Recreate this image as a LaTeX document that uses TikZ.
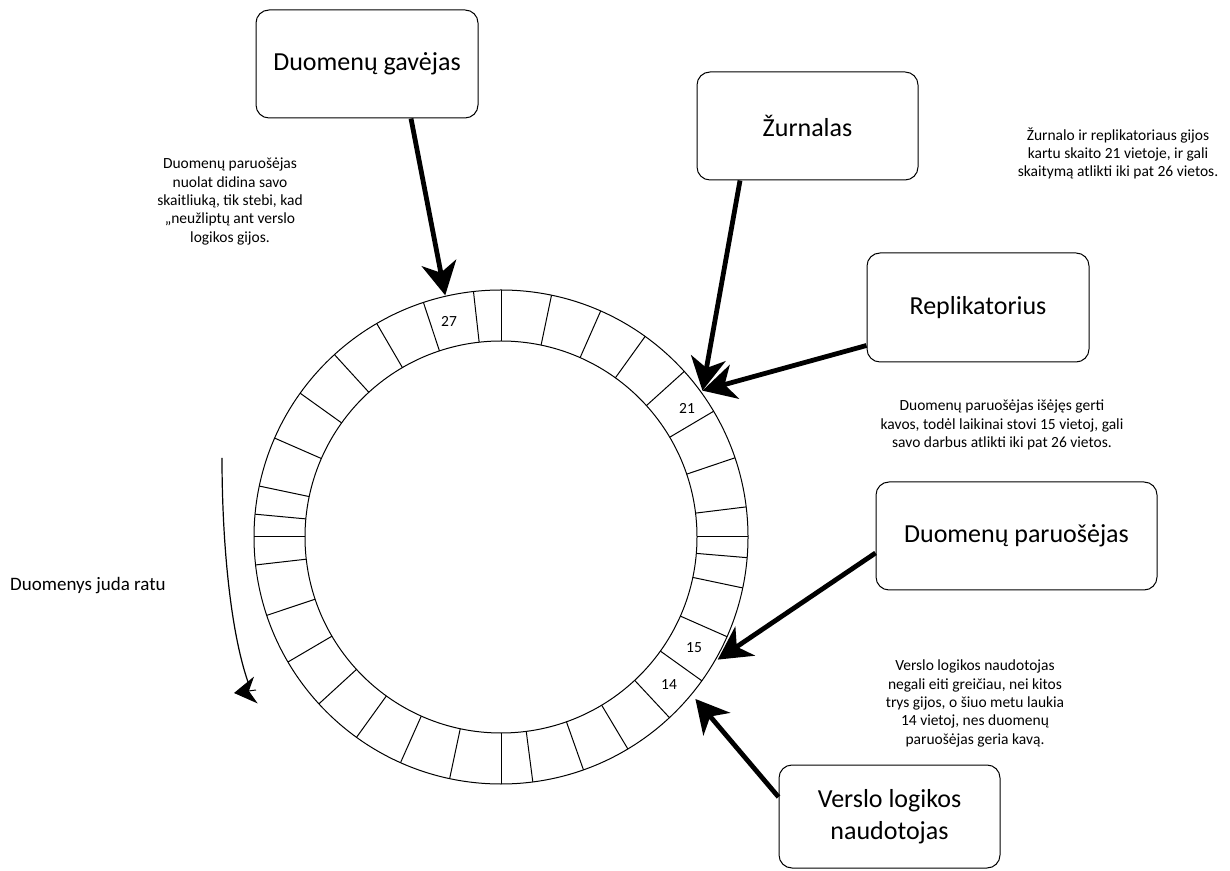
\documentclass[tikz,border=0pt]{standalone}
\usepackage{fontspec}
\setmainfont{Carlito}
\usetikzlibrary{arrows.meta,calc}
\begin{document}
\begin{tikzpicture}[x=1pt,y=1pt,
  box/.style={draw=black, line width=1pt, rounded corners=13pt, minimum width=222pt,
    minimum height=108pt, inner sep=0pt, align=center, font=\fontsize{26}{32}\selectfont},
  note/.style={align=center, inner sep=0pt, font=\fontsize{15.5}{18.3}\selectfont},
  cellnum/.style={inner sep=0pt, font=\fontsize{15.5}{18}\selectfont},
  ringline/.style={line width=1pt},
  bigarrow/.style={line width=4.8pt, -{Stealth[length=33pt,width=35pt,inset=10pt]}},
  flow/.style={line width=1.2pt}
]
\useasboundingbox (0,0) rectangle (1230,870);
\fill[white] (0,0) rectangle (1230,870);

% ring buffer
\coordinate (ring) at (501,333);
\draw[ringline] (ring) circle (247);
\draw[ringline] (ring) circle (196);
\foreach \a in {90,78.2,66.2,54.3,42.1,30.6,18.7,7,0,-4.8,-11.9,-23.8,-35.6,-47,
                -59.1,-70.5,-82.6,-90,-102,-114,-125.8,-137.5,-149.6,-161.5,-173.5,
                180,174.7,168.1,156.4,144.4,132.4,120.2,108.3,96.4}
  \draw[ringline] ($(ring)+(\a:196)$) -- ($(ring)+(\a:247)$);

% cell numbers
\node[cellnum] (n27) at (449,549) {27};
\node[cellnum] (n21) at (687,462) {21};
\node[cellnum] (n15) at (694,222) {15};
\node[cellnum] (n14) at (669,185) {14};

% arrow targets on the outer rim
\coordinate (t27) at ($(ring)+(103:248)$);
\coordinate (t21) at ($(ring)+(36:249)$);
\coordinate (t15) at ($(ring)+(-29.5:249)$);
\coordinate (t14) at ($(ring)+(-39.8:253)$);

% thread boxes
\node[box] (gav) at (367,806) {Duomenų gavėjas};
\node[box, minimum width=221pt] (zur) at (807.5,744) {Žurnalas};
\node[box, minimum height=109pt] (rep) at (978,562.5) {Replikatorius};
\node[box, minimum width=281pt] (par) at (1016.5,334) {Duomenų paruošėjas};
\node[box, minimum width=221pt, minimum height=103pt] (ver) at (889.5,53.5) {Verslo logikos\\naudotojas};

% thread positions
\draw[bigarrow] ($(gav.south)+(44,0)$) -- (t27);
\draw[bigarrow] ($(zur.south)+(-67.5,0)$) -- (t21);
\draw[bigarrow] ($(rep.west)+(0,-38)$) -- (t21);
\draw[bigarrow] ($(par.west)+(0,-17)$) -- (t15);
\draw[bigarrow] ($(ver.west)+(0,19.5)$) -- (t14);

% notes
\node[note] (note1) at (230,668.5) {Duomenų paruošėjas\\nuolat didina savo\\skaitliuką, tik stebi, kad\\„neužliptų ant verslo\\logikos gijos.};
\node[note] (note2) at (1118,716.5) {Žurnalo ir replikatoriaus gijos\\kartu skaito 21 vietoje, ir gali\\skaitymą atlikti iki pat 26 vietos.};
\node[note] (note3) at (1002,445) {Duomenų paruošėjas išėjęs gerti\\kavos, todėl laikinai stovi 15 vietoj, gali\\savo darbus atlikti iki pat 26 vietos.};
\node[note] (note4) at (975,166.5) {Verslo logikos naudotojas\\negali eiti greičiau, nei kitos\\trys gijos, o šiuo metu laukia\\14 vietoj, nes duomenų\\paruošėjas geria kavą.};

% direction of data flow
\node[note, anchor=west, font=\fontsize{19}{22}\selectfont] (flowlbl) at (10,284) {Duomenys juda ratu};
\coordinate (f0) at (222,412);
\coordinate (f1) at (248,188);
\coordinate (fb) at (256,180);
\coordinate (ft) at (234,177);
\draw[flow] (f0) .. controls (222,330) and (230,240) .. (f1);
\draw[line width=1pt, -{Stealth[length=22pt,width=27pt,inset=7pt]}] (fb) -- (ft);
\end{tikzpicture}
\end{document}
